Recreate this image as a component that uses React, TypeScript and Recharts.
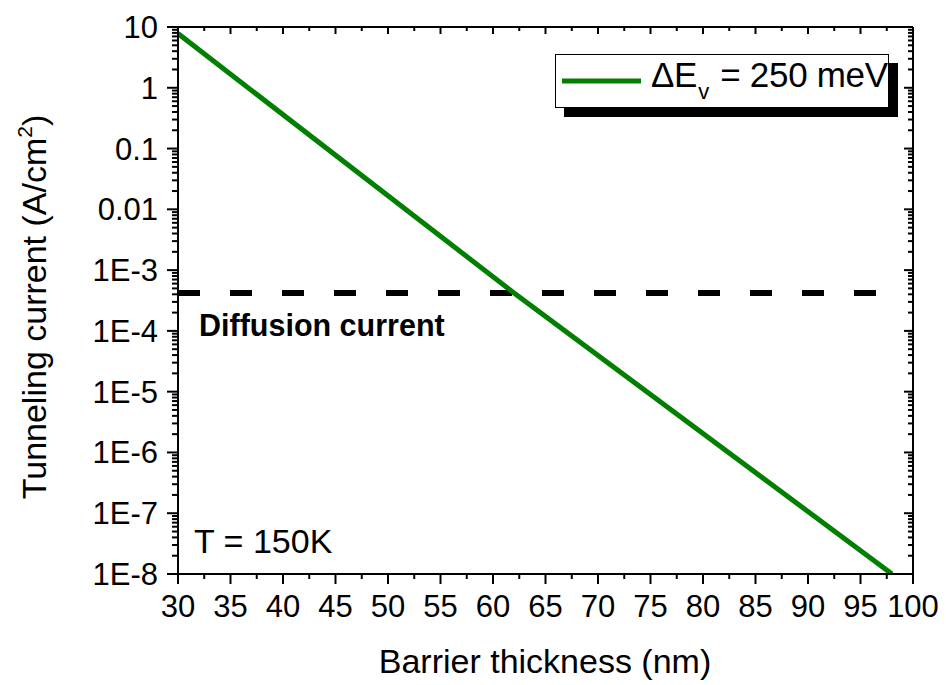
import { LineChart, Line, XAxis, YAxis, Legend, Customized } from 'recharts'

// tunneling current vs barrier thickness (log scale), T = 150 K
const thickness = [30, 62, 98]
const tunneling = [7.8, 4.2e-4, 1e-8]

// diffusion current level (flat)
const diffusionX = [30, 97]
const diffusionLevel = 4.2e-4

const xMajor = [30, 35, 40, 45, 50, 55, 60, 65, 70, 75, 80, 85, 90, 95, 100]
const yDecades = [1e-8, 1e-7, 1e-6, 1e-5, 1e-4, 1e-3, 0.01, 0.1, 1, 10]

const FONT = '"Liberation Sans", Arial, sans-serif'

const tunnelData = thickness.map((x, i) => ({ x, y: tunneling[i] }))
const diffusionData = diffusionX.map((x) => ({ x, y: diffusionLevel }))

// minor ticks: halfway between x majors, 2..9 inside each decade
const xTicks: number[] = []
xMajor.forEach((v, i) => {
  xTicks.push(v)
  if (i < xMajor.length - 1) xTicks.push(v + 2.5)
})
const yTicks: number[] = []
yDecades.forEach((d, i) => {
  yTicks.push(d)
  if (i < yDecades.length - 1) for (let k = 2; k <= 9; k++) yTicks.push(+(d * k).toPrecision(3))
})

const isDecade = (v: number) => Math.abs(Math.log10(v) - Math.round(Math.log10(v))) < 1e-6
const isXMajor = (v: number) => Math.abs(v % 5) < 1e-6

const fmtY = (v: number) => {
  const e = Math.round(Math.log10(v))
  if (e >= 0) return String(Math.round(v))
  if (e >= -2) return v.toFixed(-e)
  return `1E${e}`
}

const LeftTick = ({ x, y, payload }: any) => {
  const major = isDecade(payload.value)
  return (
    <g>
      <line x1={x - (major ? 11 : 6)} x2={x} y1={y} y2={y} stroke="#000" strokeWidth={2} />
      {major && (
        <text x={x - 20} y={y + 11} textAnchor="end" fontSize={31} fontFamily={FONT} fill="#000">
          {fmtY(payload.value)}
        </text>
      )}
    </g>
  )
}

const RightTick = ({ x, y, payload }: any) => {
  const major = isDecade(payload.value)
  return <line x1={x - (major ? 9 : 5)} x2={x} y1={y} y2={y} stroke="#000" strokeWidth={2} />
}

const BottomTick = ({ x, y, payload }: any) => {
  const major = isXMajor(payload.value)
  return (
    <g>
      <line x1={x} x2={x} y1={y} y2={y + (major ? 10 : 5)} stroke="#000" strokeWidth={2} />
      {major && (
        <text x={x} y={y + 43} textAnchor="middle" fontSize={31} fontFamily={FONT} fill="#000">
          {payload.value}
        </text>
      )}
    </g>
  )
}

const TopTick = ({ x, y, payload }: any) => {
  const major = isXMajor(payload.value)
  return <line x1={x} x2={x} y1={y} y2={y + (major ? 7 : 4)} stroke="#000" strokeWidth={2} />
}

const YTitle = () => (
  <text
    x={46}
    y={307}
    transform="rotate(-90 46 307)"
    textAnchor="middle"
    fontSize={34}
    fontFamily={FONT}
    fill="#000"
  >
    Tunneling current (A/cm
    <tspan dy={-14} fontSize={21}>2</tspan>
    <tspan dy={14}>)</tspan>
  </text>
)

const XTitle = () => (
  <text x={545} y={673} textAnchor="middle" fontSize={34} fontFamily={FONT} fill="#000">
    Barrier thickness (nm)
  </text>
)

const Notes = () => (
  <g fontFamily={FONT} fill="#000">
    <text x={199} y={336} fontSize={30.5} fontWeight="bold">
      Diffusion current
    </text>
    <text x={194} y={553} fontSize={34}>
      T = 150K
    </text>
  </g>
)

const LegendBox = () => (
  <div
    style={{
      width: 332,
      height: 52,
      border: '1px solid #000',
      background: '#fff',
      boxShadow: '9px 9px 0 #000',
      display: 'flex',
      alignItems: 'center',
      fontFamily: FONT,
      fontSize: 35,
      color: '#000',
      whiteSpace: 'nowrap',
      overflow: 'visible',
    }}
  >
    <svg width={89} height={10} style={{ marginLeft: 6, flexShrink: 0 }}>
      <line x1={0} x2={79} y1={5} y2={5} stroke="#007f00" strokeWidth={5} />
    </svg>
    <span style={{ marginTop: -2, flexShrink: 0, letterSpacing: -0.3 }}>
      ΔE<sub style={{ fontSize: 22, verticalAlign: -12, margin: '0 2px 0 1px' }}>v</sub> = 250 meV
    </span>
  </div>
)

export default function App() {
  return (
    <div style={{ position: 'absolute', left: 0, top: 0, background: '#fff' }}>
      <LineChart width={946} height={685} margin={{ top: 0, right: 0, bottom: 0, left: 0 }}>
        <XAxis
          xAxisId="b"
          dataKey="x"
          type="number"
          domain={[30, 100]}
          ticks={xTicks}
          interval={0}
          orientation="bottom"
          height={111}
          axisLine={{ stroke: '#000', strokeWidth: 2 }}
          tickLine={false}
          tickSize={0}
          tickMargin={0}
          tick={<BottomTick />}
          allowDataOverflow
        />
        <XAxis
          xAxisId="t"
          dataKey="x"
          type="number"
          domain={[30, 100]}
          ticks={xTicks}
          interval={0}
          orientation="top"
          height={27}
          axisLine={{ stroke: '#000', strokeWidth: 2 }}
          tickLine={false}
          tickSize={0}
          tickMargin={0}
          tick={<TopTick />}
          allowDataOverflow
        />
        <YAxis
          yAxisId="l"
          dataKey="y"
          type="number"
          scale="log"
          domain={[1e-8, 10]}
          ticks={yTicks}
          interval={0}
          orientation="left"
          width={178}
          axisLine={{ stroke: '#000', strokeWidth: 2 }}
          tickLine={false}
          tickSize={0}
          tickMargin={0}
          tick={<LeftTick />}
          allowDataOverflow
        />
        <YAxis
          yAxisId="r"
          dataKey="y"
          type="number"
          scale="log"
          domain={[1e-8, 10]}
          ticks={yTicks}
          interval={0}
          orientation="right"
          width={33}
          axisLine={{ stroke: '#000', strokeWidth: 2 }}
          tickLine={false}
          tickSize={0}
          tickMargin={0}
          tick={<RightTick />}
          allowDataOverflow
        />
        <Line
          xAxisId="b"
          yAxisId="l"
          data={diffusionData}
          dataKey="y"
          stroke="#000"
          strokeWidth={6}
          strokeDasharray="22 30"
          dot={false}
          isAnimationActive={false}
          legendType="none"
        />
        <Line
          xAxisId="b"
          yAxisId="l"
          data={tunnelData}
          dataKey="y"
          name="ΔEv = 250 meV"
          stroke="#007f00"
          strokeWidth={5}
          dot={false}
          isAnimationActive={false}
        />
        {/* mirror series keeps the top and right axes scaled */}
        <Line
          xAxisId="t"
          yAxisId="r"
          data={tunnelData}
          dataKey="y"
          stroke="none"
          dot={false}
          isAnimationActive={false}
          legendType="none"
        />
        <Legend
          layout="vertical"
          align="center"
          verticalAlign="middle"
          content={<LegendBox />}
          wrapperStyle={{ position: 'absolute', left: 555, top: 54, width: 'auto', height: 'auto' }}
        />
        <Customized component={YTitle} />
        <Customized component={XTitle} />
        <Customized component={Notes} />
      </LineChart>
    </div>
  )
}
